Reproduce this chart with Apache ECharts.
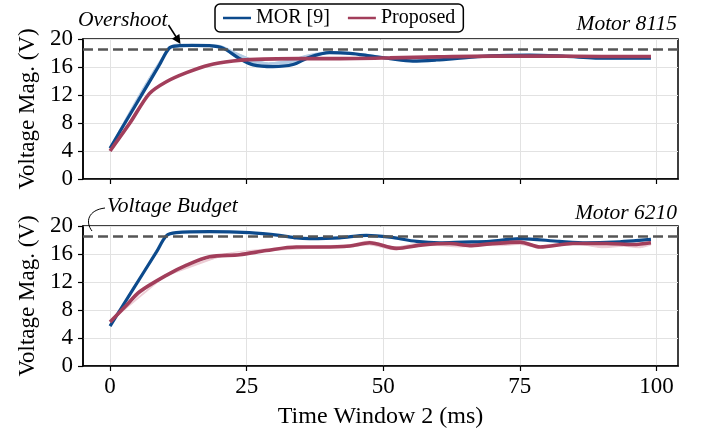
<!DOCTYPE html>
<html>
<head>
<meta charset="utf-8">
<script src="https://cdn.jsdelivr.net/npm/echarts@6/dist/echarts.min.js"></script>
<style>
html,body{margin:0;padding:0;background:#fff;}
#c{width:702px;height:437px;}
</style>
</head>
<body>
<div id="c"></div>
<script>
// ---- data ----
const xTicks = [0, 25, 50, 75, 100];
const yTicks = [0, 4, 8, 12, 16, 20];
const voltageBudget = 18.5;
const seriesNames = ['MOR [9]', 'Proposed'];
const panelTitles = ['Motor 8115', 'Motor 6210'];

// Motor 8115 (top)
const morTop = [[0,4.4],[3,8.35],[6,12.3],[9,16.25],[10.9,18.75],[12.7,19.05],[15,19.1],[18.2,19.05],[20.7,18.7],[23.7,17.2],[26.2,16.3],[29.8,16.05],[33.5,16.35],[36.5,17.4],[40.2,18.05],[43.9,17.95],[47.5,17.6],[51.2,17.2],[55.4,16.85],[59.7,17.0],[64.6,17.3],[69.5,17.6],[76.8,17.7],[82.9,17.55],[90.9,17.25],[99,17.25]];
const propTop = [[0,4.0],[3.6,7.95],[7.2,12.2],[10.3,13.9],[14,15.2],[18.2,16.3],[22.5,16.86],[25.5,17.05],[34.7,17.2],[42,17.2],[51.2,17.3],[60,17.45],[70,17.55],[80,17.55],[90,17.5],[99,17.5]];
// shaded spread [x, low, high]
const morTopBand = [[0,4.3,4.5],[10.9,18.65,18.85],[15,19.0,19.2],[20,18.8,19.1],[23,17.4,18.1],[26,16.3,17.1],[29,15.95,16.6],[33,16.2,17.0],[36,17.1,17.7],[40,17.95,18.2],[45,17.8,18.0],[50,17.2,17.5],[55,16.8,17.1],[60,16.9,17.2],[65,17.2,17.45],[70,17.5,17.7],[75,17.5,17.8],[80,17.45,17.7],[85,17.35,17.6],[90,17.15,17.4],[95,17.15,17.35],[99,17.15,17.35]];

// Motor 6210 (bottom)
const morBot = [[0,5.7],[4,10.7],[8.5,16.3],[10.3,18.6],[12.1,19.05],[18.2,19.2],[25.5,19.05],[31,18.67],[34.1,18.3],[36.5,18.2],[42,18.3],[46.9,18.67],[51.2,18.4],[56.1,17.8],[60.3,17.6],[64.6,17.7],[69.5,17.8],[75,18.2],[82.3,17.8],[87.2,17.6],[92.1,17.7],[99,18.1]];
const propBot = [[0,6.3],[3,8.67],[5.4,10.6],[10.3,12.95],[14,14.4],[18.2,15.6],[23.7,15.9],[28.6,16.5],[34.1,17.0],[38.9,17.0],[43.9,17.15],[47.5,17.6],[52.4,16.8],[57.2,17.3],[62.2,17.5],[65.8,17.2],[69.5,17.45],[75,17.7],[78.7,17.0],[84.7,17.5],[90.9,17.5],[95.8,17.35],[99,17.6]];
const propBotBand = [[0,6.2,6.4],[10,12.7,13.0],[20,15.55,15.85],[30,16.5,16.8],[40,16.9,17.2],[44,17.0,17.35],[47.5,17.3,17.85],[52,16.6,17.0],[56,17.1,17.5],[60,17.2,17.6],[64,17.0,17.6],[68,17.2,17.55],[72,17.2,17.7],[75,17.35,17.9],[78.5,16.9,17.2],[82,17.2,17.5],[86,17.35,17.6],[90,16.9,17.6],[94,17.1,17.6],[97,16.9,17.5],[99,17.3,17.8]];

// ---- styling ----
const FONT = "'Liberation Serif', 'Times New Roman', serif";
const BLUE = '#0c4a8c';
const RED = '#a23e5b';
const BLUE_BAND = '#b3cbe4';
const RED_BAND = '#ecccd4';

const chart = echarts.init(document.getElementById('c'), null, {renderer: 'canvas'});

function xAxisCfg(gridIndex, showLabels) {
  return {
    type: 'value', gridIndex: gridIndex, min: -4.95, max: 103.95,
    axisLine: {show: true, onZero: false, lineStyle: {color: '#000', width: 1.5}},
    axisTick: {show: true, length: 5, customValues: xTicks, lineStyle: {color: '#000', width: 1.2}},
    axisLabel: {show: showLabels, customValues: xTicks, fontSize: 23, color: '#000', fontFamily: FONT, margin: 9},
    splitLine: {show: true, lineStyle: {color: '#e2e2e2', width: 1}},
    name: showLabels ? 'Time Window 2 (ms)' : '',
    nameLocation: 'middle', nameGap: 39,
    nameTextStyle: {fontSize: 24, color: '#000', fontFamily: FONT}
  };
}
function yAxisCfg(gridIndex) {
  return {
    type: 'value', gridIndex: gridIndex, min: yTicks[0], max: yTicks[yTicks.length - 1], interval: 4,
    axisLine: {show: true, onZero: false, lineStyle: {color: '#000', width: 1.5}},
    axisTick: {show: true, length: 5, lineStyle: {color: '#000', width: 1.2}},
    axisLabel: {fontSize: 23, color: '#000', fontFamily: FONT, margin: 10},
    splitLine: {show: true, lineStyle: {color: '#e2e2e2', width: 1}},
    name: 'Voltage Mag. (V)', nameLocation: 'middle', nameGap: 40,
    nameTextStyle: {fontSize: 23, color: '#000', fontFamily: FONT}
  };
}
function bandSeries(band, idx, color, key) {
  return {
    type: 'custom', name: key, xAxisIndex: idx, yAxisIndex: idx, silent: true, z: 1,
    data: band,
    renderItem: function (params, api) {
      if (params.dataIndex !== 0) return null;
      const upper = band.map(d => api.coord([d[0], d[2]]));
      const lower = band.map(d => api.coord([d[0], d[1]])).reverse();
      return {
        type: 'group',
        children: [
          {type: 'polyline', shape: {points: upper, smooth: 0.3}, style: {stroke: color, lineWidth: 1, fill: null}},
          {type: 'polyline', shape: {points: lower, smooth: 0.3}, style: {stroke: color, lineWidth: 1, fill: null}},
          {type: 'polygon', shape: {points: upper.concat(lower)}, style: {fill: color}}
        ]
      };
    }
  };
}
function lineSeries(name, data, idx, color, width, withBudget) {
  const s = {type: 'line', name: name, xAxisIndex: idx, yAxisIndex: idx, data: data, smooth: 0.3,
    symbol: 'none', showSymbol: false, lineStyle: {color: color, width: width}, itemStyle: {color: color}, z: 3};
  if (withBudget) {
    s.markLine = {silent: true, symbol: ['none', 'none'], label: {show: false}, z: 5,
      lineStyle: {type: [10, 5], color: '#555', width: 2.5},
      emphasis: {disabled: true},
      data: [{yAxis: voltageBudget}]};
  }
  return s;
}

const option = {
  backgroundColor: '#fff',
  animation: false,
  textStyle: {fontFamily: FONT},
  grid: [
    {left: 83, top: 39, width: 595, height: 140, show: true, borderColor: '#000', borderWidth: 1.5, backgroundColor: 'transparent'},
    {left: 83, top: 226, width: 595, height: 140, show: true, borderColor: '#000', borderWidth: 1.5, backgroundColor: 'transparent'}
  ],
  legend: {
    data: seriesNames, left: 215, top: 4,
    padding: [4, 8, 4, 8], itemGap: 18, itemTextGap: 12,
    itemWidth: 28, itemHeight: 2.5,
    icon: 'path://M0,0H28V2.5H0Z',
    borderColor: '#000', borderWidth: 1.5, borderRadius: 5,
    textStyle: {fontSize: 20, color: '#000', fontFamily: FONT}
  },
  xAxis: [xAxisCfg(0, false), xAxisCfg(1, true)],
  yAxis: [yAxisCfg(0), yAxisCfg(1)],
  series: [
    bandSeries(morTopBand, 0, BLUE_BAND, 'bt'),
    lineSeries(seriesNames[0], morTop, 0, BLUE, 3.2, true),
    lineSeries(seriesNames[1], propTop, 0, RED, 3.6, false),
    bandSeries(propBotBand, 1, RED_BAND, 'bb'),
    lineSeries(seriesNames[0], morBot, 1, BLUE, 3.2, true),
    lineSeries(seriesNames[1], propBot, 1, RED, 3.6, false)
  ],
  graphic: [
    {type: 'text', x: 677, y: 24, style: {text: panelTitles[0], font: "italic 21.5px " + FONT, fill: '#000', align: 'right', verticalAlign: 'middle'}},
    {type: 'text', x: 677, y: 213, style: {text: panelTitles[1], font: "italic 21.5px " + FONT, fill: '#000', align: 'right', verticalAlign: 'middle'}},
    {type: 'text', x: 78, y: 20, style: {text: 'Overshoot', font: "italic 21.5px " + FONT, fill: '#000', align: 'left', verticalAlign: 'middle'}},
    {type: 'text', x: 107, y: 206, style: {text: 'Voltage Budget', font: "italic 21.5px " + FONT, fill: '#000', align: 'left', verticalAlign: 'middle'}},
    {type: 'line', shape: {x1: 168.5, y1: 25, x2: 176.5, y2: 37.5}, style: {stroke: '#000', lineWidth: 1.5}, z: 10},
    {type: 'polygon', shape: {points: [[180.5, 44], [171.9, 38.8], [179.4, 34]]}, style: {fill: '#000'}, z: 10},
    {type: 'bezierCurve', shape: {x1: 92, y1: 231, cpx1: 85, cpy1: 222, cpx2: 88, cpy2: 210, x2: 105, y2: 208}, style: {stroke: '#000', lineWidth: 1, fill: null}, z: 10}
  ]
};
chart.setOption(option);
</script>
</body>
</html>
